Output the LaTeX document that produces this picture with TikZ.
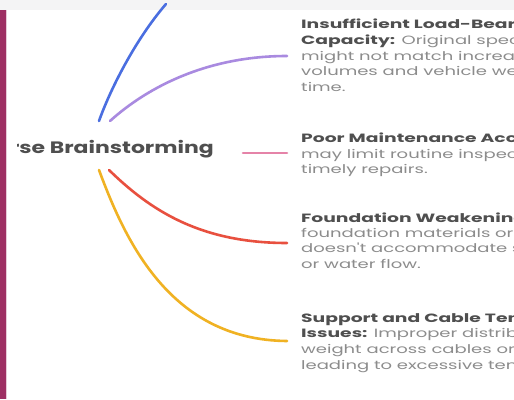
\documentclass[tikz,border=0pt]{standalone}
\usepackage{fontspec}
\setmainfont{Poppins}
\newfontfamily\bodyfont[FakeStretch=1.5]{Poppins}
\newfontfamily\headfont[FakeStretch=1.56]{Poppins}
\newfontfamily\titlefont[FakeStretch=1.33]{Poppins}
\definecolor{strip}{HTML}{9E2F63}
\definecolor{topband}{HTML}{F4F4F5}
\definecolor{cblue}{HTML}{4A6EE0}
\definecolor{cpurple}{HTML}{A98AE0}
\definecolor{cpink}{HTML}{E583A8}
\definecolor{cred}{HTML}{E8503F}
\definecolor{cyellow}{HTML}{F0B223}
\definecolor{tdark}{HTML}{4F4F4F}
\definecolor{tbody}{HTML}{8C8C8C}
\tikzset{
  branch/.style={line width=2.6pt, line cap=round},
  txtline/.style={anchor=base west, inner sep=0pt, font=\bodyfont\fontsize{12}{14}\selectfont, text=tbody},
  headline/.style={txtline, font=\headfont\fontsize{12}{14}\selectfont\bfseries, text=tdark},
}
\newcommand{\hd}[1]{\textcolor{tdark}{\headfont\bfseries #1}}
\begin{document}
\begin{tikzpicture}[x=1pt,y=-1pt]
\clip (0,0) rectangle (514,399);
\useasboundingbox (0,0) rectangle (514,399);
\fill[white] (0,0) rectangle (514,399);
\fill[topband] (0,0) rectangle (514,10);
\fill[strip] (0,10) rectangle (5.5,399);
\fill[strip!25] (5.5,10) rectangle (7,399);
% central title
\begin{scope}
\clip (17,0) rectangle (514,399);
\node[anchor=base east, inner sep=0pt, font=\titlefont\fontsize{16.5}{18}\selectfont\bfseries, text=tdark] (root) at (214,153.3) {Course Brainstorming};
\end{scope}
% anchor coordinates
\coordinate (b1s) at (99,121);  \coordinate (b1e) at (166,4);
\coordinate (b2s) at (110,121); \coordinate (b2e) at (287,56);
\coordinate (b3s) at (243,153); \coordinate (b3e) at (287,153);
\coordinate (b4s) at (109,170); \coordinate (b4e) at (287,243);
\coordinate (b5s) at (99,170);  \coordinate (b5e) at (287,341);
\draw[branch, cblue] (b1s) .. controls (110,90) and (135,40) .. (b1e);
\draw[branch, cpurple] (b2s) .. controls (150,85) and (210,56) .. (b2e);
\draw[branch, cpink] (b3s) -- (b3e);
\draw[branch, cred] (b4s) .. controls (150,210) and (200,243) .. (b4e);
\draw[branch, cyellow] (b5s) .. controls (125,240) and (170,340) .. (b5e);
% text blocks
\node[headline] (t1a) at (301,28) {Insufficient Load-Bearing};
\node[txtline] (t1b) at (301,44) {\hd{Capacity:} Original specifications};
\node[txtline] (t1c) at (301,60) {might not match increasing traffic};
\node[txtline] (t1d) at (301,75.5) {volumes and vehicle weights over};
\node[txtline] (t1e) at (301,91) {time.};
\node[headline] (t2a) at (301,142.7) {Poor Maintenance Access:};
\node[txtline] (t2b) at (301,158) {may limit routine inspections and};
\node[txtline] (t2c) at (301,173) {timely repairs.};
\node[headline] (t3a) at (301,222.7) {Foundation Weakening:};
\node[txtline] (t3b) at (301,237.7) {foundation materials or design};
\node[txtline] (t3c) at (301,252.7) {doesn't accommodate soil shifts};
\node[txtline] (t3d) at (301,268) {or water flow.};
\node[headline] (t4a) at (301,322.7) {Support and Cable Tension};
\node[txtline] (t4b) at (301,337.7) {\hd{Issues:} Improper distribution of};
\node[txtline] (t4c) at (301,353) {weight across cables or supports};
\node[txtline] (t4d) at (301,369) {leading to excessive tension.};
\end{tikzpicture}
\end{document}
